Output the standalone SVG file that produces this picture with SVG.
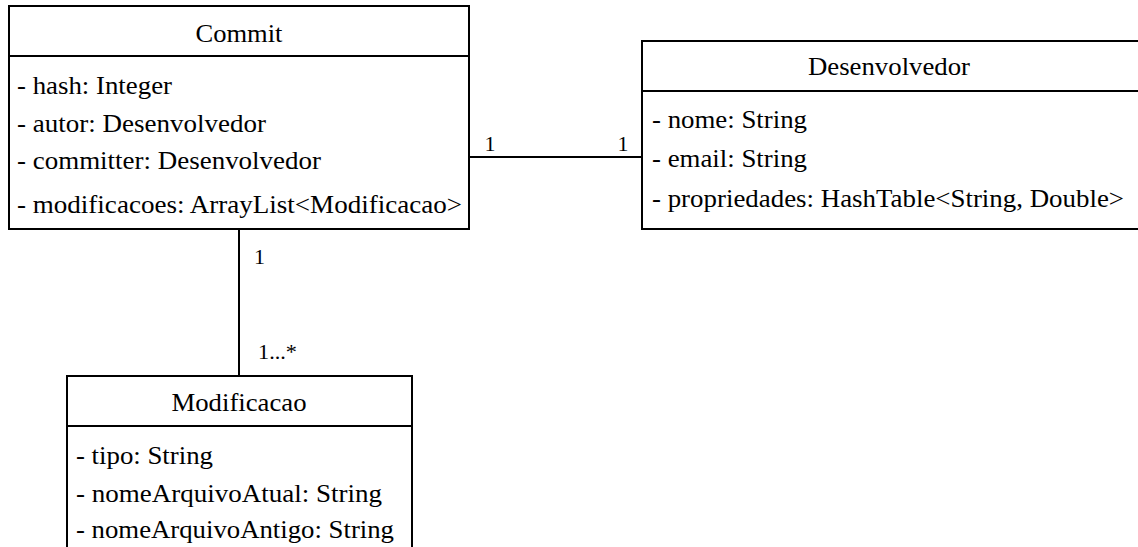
<svg xmlns="http://www.w3.org/2000/svg" width="1138" height="547" viewBox="0 0 1138 547">
<style>
.box{fill:#fff;stroke:#000;stroke-width:2}
.div{stroke:#000;stroke-width:2}
text{font-family:"Times New Roman","Liberation Serif",Tinos,"DejaVu Serif",serif;fill:#000}
.t{font-size:25px}
.title{text-anchor:middle;font-size:26px}
.lbl{font-size:22px}
.conn{stroke:#000;stroke-width:2;fill:none}
</style>
<rect width="1138" height="547" fill="#fff"/>
<g id="connectors">
<line class="conn" x1="469" y1="157" x2="642" y2="157"/>
<line class="conn" x1="239" y1="229" x2="239" y2="376"/>
<text class="lbl" x="490" y="151" text-anchor="middle">1</text>
<text class="lbl" x="623" y="151" text-anchor="middle">1</text>
<text class="lbl" x="259.5" y="264" text-anchor="middle">1</text>
<text class="lbl" x="258" y="359" textLength="39" lengthAdjust="spacingAndGlyphs">1...*</text>
</g>
<g id="commit">
<rect class="box" x="9" y="6" width="460" height="223"/>
<line class="div" x1="9" y1="56" x2="469" y2="56"/>
<text class="title" x="239" y="42" textLength="87" lengthAdjust="spacingAndGlyphs">Commit</text>
<text class="t" x="17" y="94" textLength="155" lengthAdjust="spacingAndGlyphs">- hash: Integer</text>
<text class="t" x="17" y="132" textLength="249" lengthAdjust="spacingAndGlyphs">- autor: Desenvolvedor</text>
<text class="t" x="17" y="169" textLength="304" lengthAdjust="spacingAndGlyphs">- committer: Desenvolvedor</text>
<text class="t" x="17" y="213" textLength="445" lengthAdjust="spacingAndGlyphs">- modificacoes: ArrayList&lt;Modificacao&gt;</text>
</g>
<g id="desenvolvedor">
<rect class="box" x="642" y="41" width="510" height="188"/>
<line class="div" x1="642" y1="91" x2="1152" y2="91"/>
<text class="title" x="889" y="75" textLength="162" lengthAdjust="spacingAndGlyphs">Desenvolvedor</text>
<text class="t" x="652" y="128" textLength="155" lengthAdjust="spacingAndGlyphs">- nome: String</text>
<text class="t" x="652" y="167" textLength="155" lengthAdjust="spacingAndGlyphs">- email: String</text>
<text class="t" x="652" y="207" textLength="472" lengthAdjust="spacingAndGlyphs">- propriedades: HashTable&lt;String, Double&gt;</text>
</g>
<g id="modificacao">
<rect class="box" x="67" y="376" width="345" height="200"/>
<line class="div" x1="67" y1="426" x2="412" y2="426"/>
<text class="title" x="239" y="411" textLength="135" lengthAdjust="spacingAndGlyphs">Modificacao</text>
<text class="t" x="76" y="464" textLength="137" lengthAdjust="spacingAndGlyphs">- tipo: String</text>
<text class="t" x="76" y="502" textLength="306" lengthAdjust="spacingAndGlyphs">- nomeArquivoAtual: String</text>
<text class="t" x="76" y="538" textLength="318" lengthAdjust="spacingAndGlyphs">- nomeArquivoAntigo: String</text>
</g>
</svg>
